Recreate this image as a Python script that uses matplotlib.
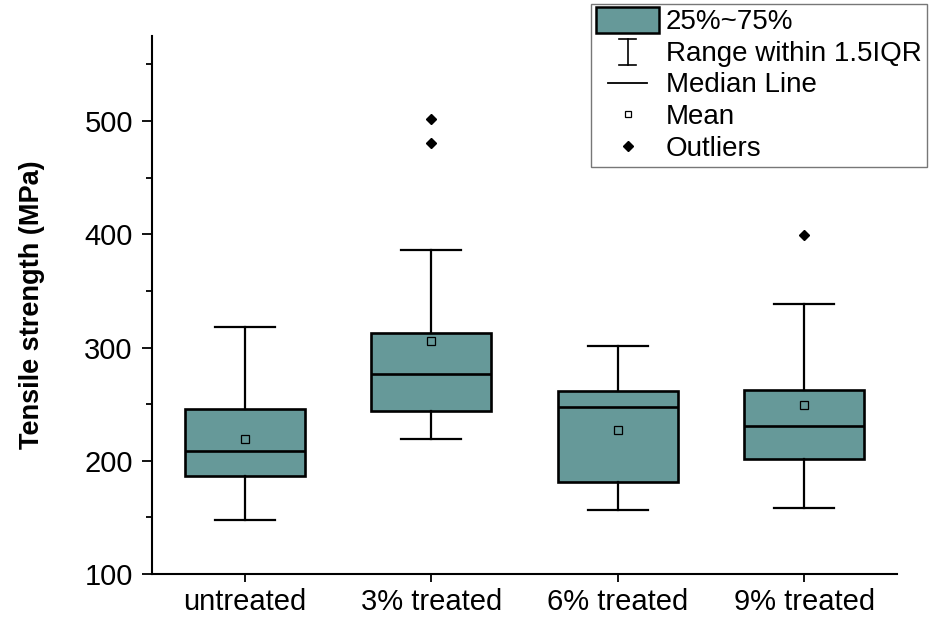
import matplotlib
matplotlib.use("Agg")
import matplotlib.pyplot as plt
from matplotlib.patches import Rectangle
from matplotlib.lines import Line2D
from matplotlib.legend_handler import HandlerBase
from matplotlib.ticker import MultipleLocator

plt.rcParams['font.family'] = ['Liberation Sans', 'DejaVu Sans']

groups = ["untreated", "3% treated", "6% treated", "9% treated"]
q1 = [186.5, 244.0, 181.0, 201.5]
median = [208.5, 276.5, 247.5, 230.5]
q3 = [245.5, 312.5, 262.0, 262.5]
whislo = [148.0, 219.5, 157.0, 158.5]
whishi = [318.0, 386.5, 301.5, 338.0]
mean = [219.5, 305.5, 227.0, 249.0]
outliers = [[], [480.5, 502.0], [], [399.0]]

box_color = "#669999"

stats = []
for i in range(len(groups)):
    stats.append(dict(label=groups[i], q1=q1[i], med=median[i], q3=q3[i],
                      whislo=whislo[i], whishi=whishi[i], mean=mean[i],
                      fliers=outliers[i]))

fig = plt.figure(figsize=(9.3, 6.2), dpi=100)
ax = fig.add_axes([0.163, 0.074, 0.802, 0.868])

ax.bxp(stats, positions=range(1, 5), widths=0.642, capwidths=0.32,
       patch_artist=True, showmeans=True,
       boxprops=dict(facecolor=box_color, edgecolor="black", linewidth=1.9),
       medianprops=dict(color="black", linewidth=1.9),
       whiskerprops=dict(color="black", linewidth=1.6),
       capprops=dict(color="black", linewidth=1.6),
       meanprops=dict(marker="s", markerfacecolor="none", markeredgecolor="black",
                      markersize=5.3, markeredgewidth=0.9),
       flierprops=dict(marker="D", markerfacecolor="black", markeredgecolor="black",
                       markersize=5.5))

ax.set_xlim(0.5, 4.5)
ax.set_ylim(100, 575)
ax.yaxis.set_major_locator(MultipleLocator(100))
ax.yaxis.set_minor_locator(MultipleLocator(50))
ax.set_xticks(range(1, 5))
ax.set_xticklabels(groups)
ax.tick_params(axis="both", which="major", labelsize=21, width=1.3)
ax.tick_params(axis="y", which="major", length=7.5, pad=6)
ax.tick_params(axis="y", which="minor", length=4.3, width=1.3)
ax.tick_params(axis="x", which="major", length=6, pad=4)
for s in ["top", "right"]:
    ax.spines[s].set_visible(False)
for s in ["left", "bottom"]:
    ax.spines[s].set_linewidth(1.5)
ax.set_ylabel("Tensile strength (MPa)", fontsize=19.5, fontweight="bold", labelpad=28)


class BoxHandler(HandlerBase):
    def create_artists(self, legend, orig_handle, xdescent, ydescent, width, height, fontsize, trans):
        r = Rectangle((-xdescent, -ydescent - 0.2 * height), width, height * 1.35,
                      facecolor=box_color, edgecolor="black", linewidth=1.8, transform=trans)
        return [r]


class RangeHandler(HandlerBase):
    def create_artists(self, legend, orig_handle, xdescent, ydescent, width, height, fontsize, trans):
        cx = -xdescent + width / 2
        y0, y1 = -ydescent - 0.2 * height, -ydescent + 1.15 * height
        cw = width * 0.14
        lines = [Line2D([cx, cx], [y0, y1], color="black", linewidth=1.2, transform=trans),
                 Line2D([cx - cw, cx + cw], [y0, y0], color="black", linewidth=1.2, transform=trans),
                 Line2D([cx - cw, cx + cw], [y1, y1], color="black", linewidth=1.2, transform=trans)]
        return lines


class ShortLineHandler(HandlerBase):
    def create_artists(self, legend, orig_handle, xdescent, ydescent, width, height, fontsize, trans):
        cx = -xdescent + width / 2
        cy = -ydescent + height / 2
        half = width * 0.31
        return [Line2D([cx - half, cx + half], [cy, cy], color="black", linewidth=1.3,
                       transform=trans)]


box_handle = Rectangle((0, 0), 1, 1)
range_handle = Line2D([], [])
median_handle = Line2D([], [], color="black")
mean_handle = Line2D([], [], linestyle="none", marker="s", markerfacecolor="none",
                     markeredgecolor="black", markersize=5, markeredgewidth=0.9)
outlier_handle = Line2D([], [], linestyle="none", marker="D", markerfacecolor="black",
                        markeredgecolor="black", markersize=5)

leg = fig.legend([box_handle, range_handle, median_handle, mean_handle, outlier_handle],
                 ["25%~75%", "Range within 1.5IQR", "Median Line", "Mean", "Outliers"],
                 handler_map={box_handle: BoxHandler(), range_handle: RangeHandler(),
                              median_handle: ShortLineHandler()},
                 loc="upper left", bbox_to_anchor=(0.636, 0.993), fontsize=20,
                 handlelength=2.25, handletextpad=0.25, labelspacing=0.2,
                 borderpad=0.18, borderaxespad=0, fancybox=False, frameon=True)
leg.get_frame().set_edgecolor("#555555")
leg.get_frame().set_linewidth(1.0)

fig.savefig("out.png", dpi=100)
